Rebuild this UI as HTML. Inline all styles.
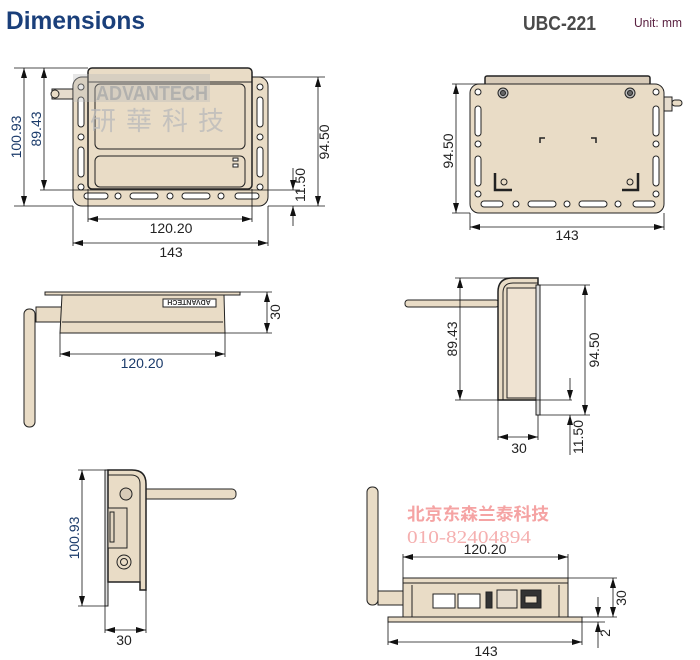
<!DOCTYPE html>
<html><head><meta charset="utf-8">
<style>
html,body{margin:0;padding:0;background:#fff;}
svg{display:block;font-family:"Liberation Sans","Noto Sans CJK SC",sans-serif;}
</style></head>
<body>
<svg width="700" height="660" viewBox="0 0 700 660" xmlns="http://www.w3.org/2000/svg">
<defs>
<marker id="a" viewBox="0 0 10 6" refX="10" refY="3" markerWidth="10" markerHeight="6" orient="auto-start-reverse" markerUnits="userSpaceOnUse"><path d="M0,0 L10,3 L0,6z" fill="#111"/></marker>
</defs>
<text x="6" y="29" font-size="25" font-weight="bold" fill="#1a3f7a" textLength="139" lengthAdjust="spacingAndGlyphs">Dimensions</text>
<text x="523" y="30" font-size="20" font-weight="bold" fill="#4a4a4a" textLength="73" lengthAdjust="spacingAndGlyphs">UBC-221</text>
<text x="634" y="27" font-size="13" fill="#5a2040" textLength="48" lengthAdjust="spacingAndGlyphs">Unit: mm</text>

<g stroke="#222" stroke-width="1" fill="#e9dcc6">
<rect x="52" y="89" width="36" height="10" fill="#e6dccd"/>
<circle cx="55" cy="94" r="4"/>
<rect x="73" y="77" width="195" height="129" rx="9"/>
<g fill="#fff">
<circle cx="81" cy="87" r="3"/><rect x="78" y="97" width="6" height="30" rx="3"/><circle cx="81" cy="137" r="3"/><rect x="78" y="147" width="6" height="30" rx="3"/><circle cx="81" cy="187" r="3"/>
<circle cx="260" cy="87" r="3"/><rect x="257" y="97" width="6" height="30" rx="3"/><circle cx="260" cy="137" r="3"/><rect x="257" y="147" width="6" height="30" rx="3"/><circle cx="260" cy="187" r="3"/>
<rect x="84" y="193" width="24" height="6" rx="3"/><circle cx="118" cy="196" r="3"/><rect x="130" y="193" width="28" height="6" rx="3"/><circle cx="170" cy="196" r="3"/><rect x="182" y="193" width="28" height="6" rx="3"/><circle cx="221" cy="196" r="3"/><rect x="235" y="193" width="24" height="6" rx="3"/>
</g>
<rect x="88" y="68" width="164" height="121" rx="4" stroke-width="1.5"/>
<line x1="88" y1="82" x2="252" y2="82"/>
<rect x="95" y="84" width="150" height="65" rx="5" fill="none"/>
<rect x="95" y="156" width="150" height="31" rx="5" fill="none"/>
<rect x="233" y="158" width="5" height="3" fill="#fff"/><rect x="233" y="164" width="5" height="3" fill="#fff"/>
</g>
<rect x="73" y="74" width="137" height="28" fill="#b8b8b8" opacity="0.35"/>
<text x="96" y="100" font-size="20" font-weight="bold" fill="#aaa" opacity="0.8" textLength="112" lengthAdjust="spacingAndGlyphs">ADVANTECH</text>
<text x="90" y="130" font-size="26" fill="#bbb" opacity="0.8" style="font-family:'Noto Sans CJK TC',sans-serif" letter-spacing="10">研華科技</text>

<g stroke="#111" stroke-width="0.8" fill="none">
<line x1="14" y1="68" x2="88" y2="68"/><line x1="14" y1="206" x2="73" y2="206"/>
<line x1="24" y1="68" x2="24" y2="206" marker-start="url(#a)" marker-end="url(#a)"/>
<line x1="40" y1="190" x2="300" y2="190"/>
<line x1="44" y1="68" x2="44" y2="190" marker-start="url(#a)" marker-end="url(#a)"/>
<line x1="252" y1="77" x2="325" y2="77"/><line x1="268" y1="206" x2="325" y2="206"/>
<line x1="318" y1="77" x2="318" y2="206" marker-start="url(#a)" marker-end="url(#a)"/>
<line x1="293" y1="168" x2="293" y2="190" marker-end="url(#a)"/><line x1="293" y1="226" x2="293" y2="206" marker-end="url(#a)"/>
<line x1="88" y1="189" x2="88" y2="222"/><line x1="252" y1="189" x2="252" y2="222"/>
<line x1="88" y1="219" x2="252" y2="219" marker-start="url(#a)" marker-end="url(#a)"/>
<line x1="73" y1="206" x2="73" y2="246"/><line x1="268" y1="206" x2="268" y2="246"/>
<line x1="73" y1="243" x2="268" y2="243" marker-start="url(#a)" marker-end="url(#a)"/>
</g>
<g font-size="14" fill="#222">
<text transform="translate(21,137) rotate(-90)" text-anchor="middle" fill="#1a3a6a">100.93</text>
<text transform="translate(41,129) rotate(-90)" text-anchor="middle" fill="#1a3a6a">89.43</text>
<text transform="translate(329,142) rotate(-90)" text-anchor="middle">94.50</text>
<text transform="translate(305,185) rotate(-90)" text-anchor="middle">11.50</text>
<text x="171" y="233" text-anchor="middle">120.20</text>
<text x="171" y="257" text-anchor="middle">143</text>
</g>

<g stroke="#222" stroke-width="1" fill="#e9dcc6">
<rect x="485" y="76" width="165" height="9" rx="2" fill="#d8cbb8" stroke-width="1.5"/>
<rect x="664" y="97" width="8" height="14" fill="#e6dccd"/><rect x="672" y="100" width="10" height="6" rx="3"/>
<rect x="470" y="84" width="194" height="129" rx="9"/>
<g fill="#fff">
<circle cx="478" cy="92" r="3"/><rect x="475" y="106" width="6" height="30" rx="3"/><circle cx="478" cy="144" r="3"/><rect x="475" y="156" width="6" height="30" rx="3"/><circle cx="478" cy="194" r="3"/>
<circle cx="656" cy="92" r="3"/><rect x="653" y="106" width="6" height="30" rx="3"/><circle cx="656" cy="144" r="3"/><rect x="653" y="156" width="6" height="30" rx="3"/><circle cx="656" cy="194" r="3"/>
<rect x="481" y="201" width="22" height="6" rx="3"/><circle cx="516" cy="204" r="3"/><rect x="528" y="201" width="28" height="6" rx="3"/><circle cx="567" cy="204" r="3"/><rect x="579" y="201" width="28" height="6" rx="3"/><circle cx="618" cy="204" r="3"/><rect x="633" y="201" width="22" height="6" rx="3"/>
</g>
<circle cx="503" cy="93" r="5" fill="#bbb"/><circle cx="503" cy="93" r="2.5" fill="#666"/>
<circle cx="630" cy="93" r="5" fill="#bbb"/><circle cx="630" cy="93" r="2.5" fill="#666"/>
<path d="M495,173 V190 H512" fill="none" stroke-width="2.5"/><circle cx="504" cy="182" r="3"/>
<path d="M638,173 V190 H622" fill="none" stroke-width="2.5"/><circle cx="630" cy="182" r="3"/>
<path d="M540,143 V138 H545 M591,138 H596 V143" fill="none" stroke-width="1.5"/>
</g>
<g stroke="#111" stroke-width="0.8" fill="none">
<line x1="452" y1="84" x2="485" y2="84"/><line x1="452" y1="213" x2="470" y2="213"/>
<line x1="456" y1="84" x2="456" y2="213" marker-start="url(#a)" marker-end="url(#a)"/>
<line x1="470" y1="213" x2="470" y2="230"/><line x1="664" y1="213" x2="664" y2="230"/>
<line x1="470" y1="227" x2="664" y2="227" marker-start="url(#a)" marker-end="url(#a)"/>
</g>
<g font-size="14" fill="#222">
<text transform="translate(453,151) rotate(-90)" text-anchor="middle">94.50</text>
<text x="567" y="240" text-anchor="middle">143</text>
</g>

<g stroke="#222" stroke-width="1" fill="#e9dcc6">
<rect x="24" y="309" width="11" height="118" rx="5"/>
<rect x="36" y="307" width="26" height="15"/>
<rect x="45" y="292" width="195" height="3"/>
<path d="M62,295 H224 L225,333 H60 Z"/>
<line x1="62" y1="322" x2="223" y2="322"/>
<rect x="163" y="299" width="53" height="8" fill="#fff"/>
</g>
<text x="189" y="306" font-size="7" font-weight="bold" fill="#333" text-anchor="middle" transform="rotate(180,189,303)">ADVANTECH</text>
<g stroke="#111" stroke-width="0.8" fill="none">
<line x1="240" y1="292" x2="272" y2="292"/><line x1="225" y1="333" x2="272" y2="333"/>
<line x1="267" y1="292" x2="267" y2="333" marker-start="url(#a)" marker-end="url(#a)"/>
<line x1="60" y1="333" x2="60" y2="357"/><line x1="225" y1="333" x2="225" y2="357"/>
<line x1="60" y1="354" x2="225" y2="354" marker-start="url(#a)" marker-end="url(#a)"/>
</g>
<g font-size="14" fill="#222">
<text transform="translate(280,312) rotate(-90)" text-anchor="middle">30</text>
<text x="142" y="368" text-anchor="middle" fill="#1a3a6a">120.20</text>
</g>

<g stroke="#222" stroke-width="1" fill="#e9dcc6">
<rect x="405" y="300" width="94" height="7" rx="3"/>
<path d="M498,400 V292 Q498,278 512,278 H538 V400 Z" stroke-width="1.5"/>
<path d="M503,400 V293 Q503,283 513,283 H538" fill="none"/>
<rect x="507" y="288" width="31" height="110" fill="#efe3d2"/>
<rect x="536" y="285" width="4" height="130" fill="#ddd"/>
</g>
<g stroke="#111" stroke-width="0.8" fill="none">
<line x1="455" y1="278" x2="510" y2="278"/><line x1="455" y1="400" x2="572" y2="400"/>
<line x1="460" y1="278" x2="460" y2="400" marker-start="url(#a)" marker-end="url(#a)"/>
<line x1="538" y1="285" x2="590" y2="285"/><line x1="540" y1="415" x2="590" y2="415"/>
<line x1="585" y1="285" x2="585" y2="415" marker-start="url(#a)" marker-end="url(#a)"/>
<line x1="570" y1="378" x2="570" y2="400" marker-end="url(#a)"/><line x1="570" y1="455" x2="570" y2="415" marker-end="url(#a)"/>
<line x1="498" y1="400" x2="498" y2="440"/><line x1="538" y1="415" x2="538" y2="440"/>
<line x1="498" y1="437" x2="538" y2="437" marker-start="url(#a)" marker-end="url(#a)"/>
</g>
<g font-size="14" fill="#222">
<text transform="translate(457,339) rotate(-90)" text-anchor="middle">89.43</text>
<text transform="translate(599,350) rotate(-90)" text-anchor="middle">94.50</text>
<text transform="translate(583,437) rotate(-90)" text-anchor="middle">11.50</text>
<text x="519" y="453" text-anchor="middle">30</text>
</g>

<g stroke="#222" stroke-width="1" fill="#e9dcc6">
<rect x="130" y="489" width="106" height="10" rx="4"/>
<rect x="105" y="470" width="3" height="136" fill="#ddd"/>
<path d="M108,470 H132 Q146,470 146,484 V590 H140 V582 H108 Z" stroke-width="1.5"/>
<path d="M108,475 H131 Q140,475 140,484 V582" fill="none"/>
<circle cx="126" cy="494" r="6" fill="#d8cbb8"/>
<rect x="108" y="508" width="19" height="40" fill="#e2d5c1"/>
<rect x="110" y="512" width="4" height="30" fill="none"/>
<circle cx="124" cy="562" r="7"/><circle cx="124" cy="562" r="3.5"/>
</g>
<g stroke="#111" stroke-width="0.8" fill="none">
<line x1="78" y1="470" x2="110" y2="470"/><line x1="78" y1="606" x2="105" y2="606"/>
<line x1="82" y1="470" x2="82" y2="606" marker-start="url(#a)" marker-end="url(#a)"/>
<line x1="105" y1="606" x2="105" y2="633"/><line x1="146" y1="590" x2="146" y2="633"/>
<line x1="105" y1="630" x2="146" y2="630" marker-start="url(#a)" marker-end="url(#a)"/>
</g>
<g font-size="14" fill="#222">
<text transform="translate(79,538) rotate(-90)" text-anchor="middle" fill="#1a3a6a">100.93</text>
<text x="124" y="645" text-anchor="middle">30</text>
</g>

<g stroke="#222" stroke-width="1" fill="#e9dcc6">
<rect x="367" y="487" width="11" height="118" rx="5"/>
<rect x="378" y="591" width="30" height="14"/>
<rect x="403" y="578" width="165" height="40"/>
<line x1="403" y1="583" x2="568" y2="583"/>
<line x1="412" y1="585" x2="412" y2="617"/><line x1="559" y1="585" x2="559" y2="617"/>
<rect x="388" y="617" width="194" height="5"/>
<rect x="433" y="594" width="22" height="14" fill="#fff"/><rect x="458" y="594" width="22" height="14" fill="#fff"/>
<rect x="486" y="592" width="6" height="16" fill="#333"/>
<rect x="497" y="590" width="20" height="18" fill="#e6dccd"/>
<rect x="521" y="590" width="20" height="18" fill="#333"/>
<rect x="525" y="596" width="12" height="7" fill="#e9dcc6"/>
</g>
<g stroke="#111" stroke-width="0.8" fill="none">
<line x1="403" y1="554" x2="403" y2="578"/><line x1="568" y1="554" x2="568" y2="578"/>
<line x1="403" y1="557" x2="568" y2="557" marker-start="url(#a)" marker-end="url(#a)"/>
<line x1="568" y1="578" x2="617" y2="578"/><line x1="582" y1="617" x2="617" y2="617"/><line x1="582" y1="622" x2="605" y2="622"/>
<line x1="613" y1="578" x2="613" y2="617" marker-start="url(#a)" marker-end="url(#a)"/>
<line x1="598" y1="597" x2="598" y2="617" marker-end="url(#a)"/><line x1="598" y1="648" x2="598" y2="622" marker-end="url(#a)"/>
<line x1="388" y1="622" x2="388" y2="645"/><line x1="582" y1="622" x2="582" y2="645"/>
<line x1="388" y1="642" x2="582" y2="642" marker-start="url(#a)" marker-end="url(#a)"/>
</g>
<text x="407" y="520" font-size="17" font-weight="bold" fill="#f5a3a3" style="font-family:'Noto Sans CJK SC',sans-serif" textLength="142" lengthAdjust="spacingAndGlyphs">北京东森兰泰科技</text>
<text x="407" y="543" font-size="18" fill="#f5b0b0" style="font-family:'Liberation Serif',serif" textLength="124" lengthAdjust="spacingAndGlyphs">010-82404894</text>
<g font-size="14" fill="#222">
<text x="485" y="554" text-anchor="middle">120.20</text>
<text transform="translate(626,598) rotate(-90)" text-anchor="middle">30</text>
<text transform="translate(610,633) rotate(-90)" text-anchor="middle">2</text>
<text x="486" y="656" text-anchor="middle">143</text>
</g>
</svg>
</body></html>
